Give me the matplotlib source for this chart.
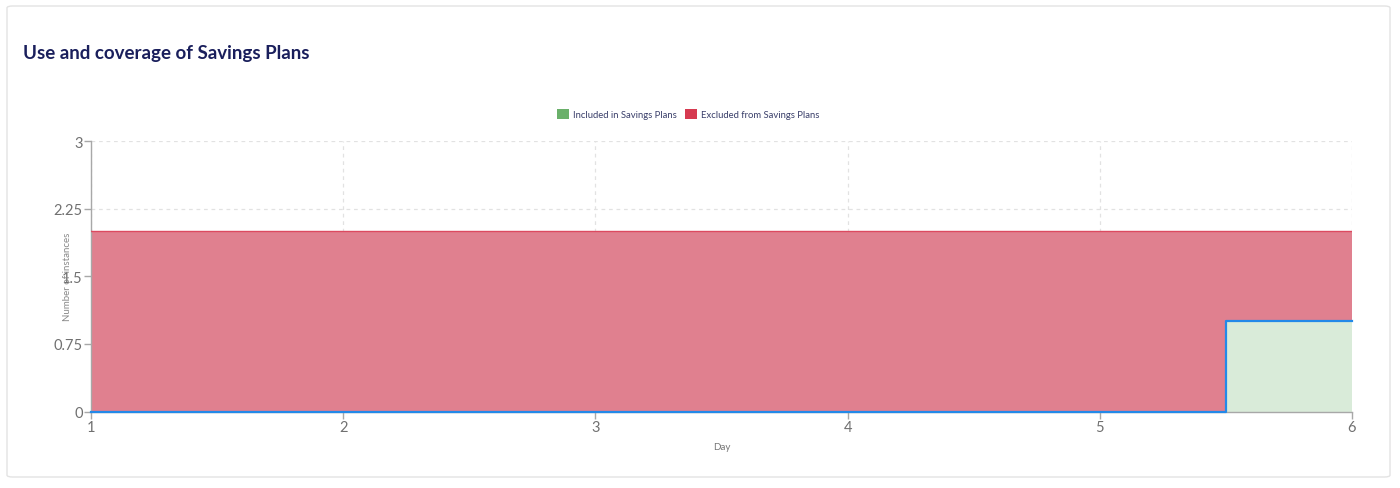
import matplotlib
matplotlib.use("Agg")
import matplotlib.pyplot as plt
import numpy as np
from matplotlib.patches import FancyBboxPatch, Patch

days = [1, 2, 3, 4, 5, 6]
included = [0, 0, 0, 0, 0, 1]
excluded = [2, 2, 2, 2, 2, 1]
y_ticks = [0, 0.75, 1.5, 2.25, 3]
y_tick_labels = ["0", "0.75", "1.5", "2.25", "3"]
title = "Use and coverage of Savings Plans"
series_names = ["Included in Savings Plans", "Excluded from Savings Plans"]

plt.rcParams['font.family'] = ['Lato', 'DejaVu Sans']

W, H = 1400, 489
fig = plt.figure(figsize=(W / 100, H / 100), dpi=100)
fig.patch.set_facecolor("white")

# card
card = FancyBboxPatch((7 / W, (489 - 478) / H), (1390 - 7) / W, (478 - 7) / H,
                      boxstyle="round,pad=0,rounding_size=0.004",
                      transform=fig.transFigure, facecolor="white",
                      edgecolor="#e3e3e3", linewidth=1.0, zorder=-10)
fig.patches.append(card)

fig.text(23 / W, 1 - 53 / H, title, fontsize=13.5, fontweight="bold",
         color="#1a1f5c", va="center", ha="left")

x0, x1, y0, y1 = 91, 1352, 142, 412.5
ax = fig.add_axes([x0 / W, 1 - y1 / H, (x1 - x0) / W, (y1 - y0) / H])
ax.set_zorder(5)
ax.patch.set_alpha(0)

inc = np.array(included, dtype=float)
exc = np.array(excluded, dtype=float)
tot = inc + exc

ax.fill_between(days, 0, inc, step="mid", color="#d9ebd9", linewidth=0, zorder=2)
ax.fill_between(days, inc, tot, step="mid", color="#e0808f", linewidth=0, zorder=2)
ax.step(days, tot, where="mid", color="#dc4a60", linewidth=1.0, zorder=3)
ax.step(days, inc, where="mid", color="#2389e8", linewidth=1.6, zorder=4, clip_on=False)

ax.set_xlim(1, 6)
ax.set_ylim(0, 3)
ax.set_xticks(days)
ax.set_xticklabels([str(d) for d in days])
ax.set_yticks(y_ticks)
ax.set_yticklabels(y_tick_labels)

ax.grid(True, color="#e2e2e2", linestyle=(0, (3, 3)), linewidth=0.9, zorder=1)
ax.set_axisbelow(True)
for s in ["top", "right"]:
    ax.spines[s].set_visible(False)
for s in ["left", "bottom"]:
    ax.spines[s].set_color("#a8a8a8")
    ax.spines[s].set_linewidth(1.0)
ax.tick_params(axis="both", colors="#a8a8a8", labelcolor="#707070",
               labelsize=10.5, length=5, width=1, pad=1)

ax.set_xlabel("Day", fontsize=7, color="#777777", labelpad=6)
ax.set_ylabel("Number of instances", fontsize=7, color="#888888", labelpad=-13)

handles = [Patch(facecolor="#6ab06a", edgecolor="none"),
           Patch(facecolor="#d63a50", edgecolor="none")]
fig.legend(handles, series_names, loc="center", bbox_to_anchor=(688 / W, 1 - 115 / H),
           ncol=2, frameon=False, fontsize=6.8, labelcolor="#3a3f6a",
           handlelength=1.3, handleheight=1.3, handletextpad=0.4, columnspacing=0.9)

fig.savefig("out.png", dpi=100, facecolor="white")
